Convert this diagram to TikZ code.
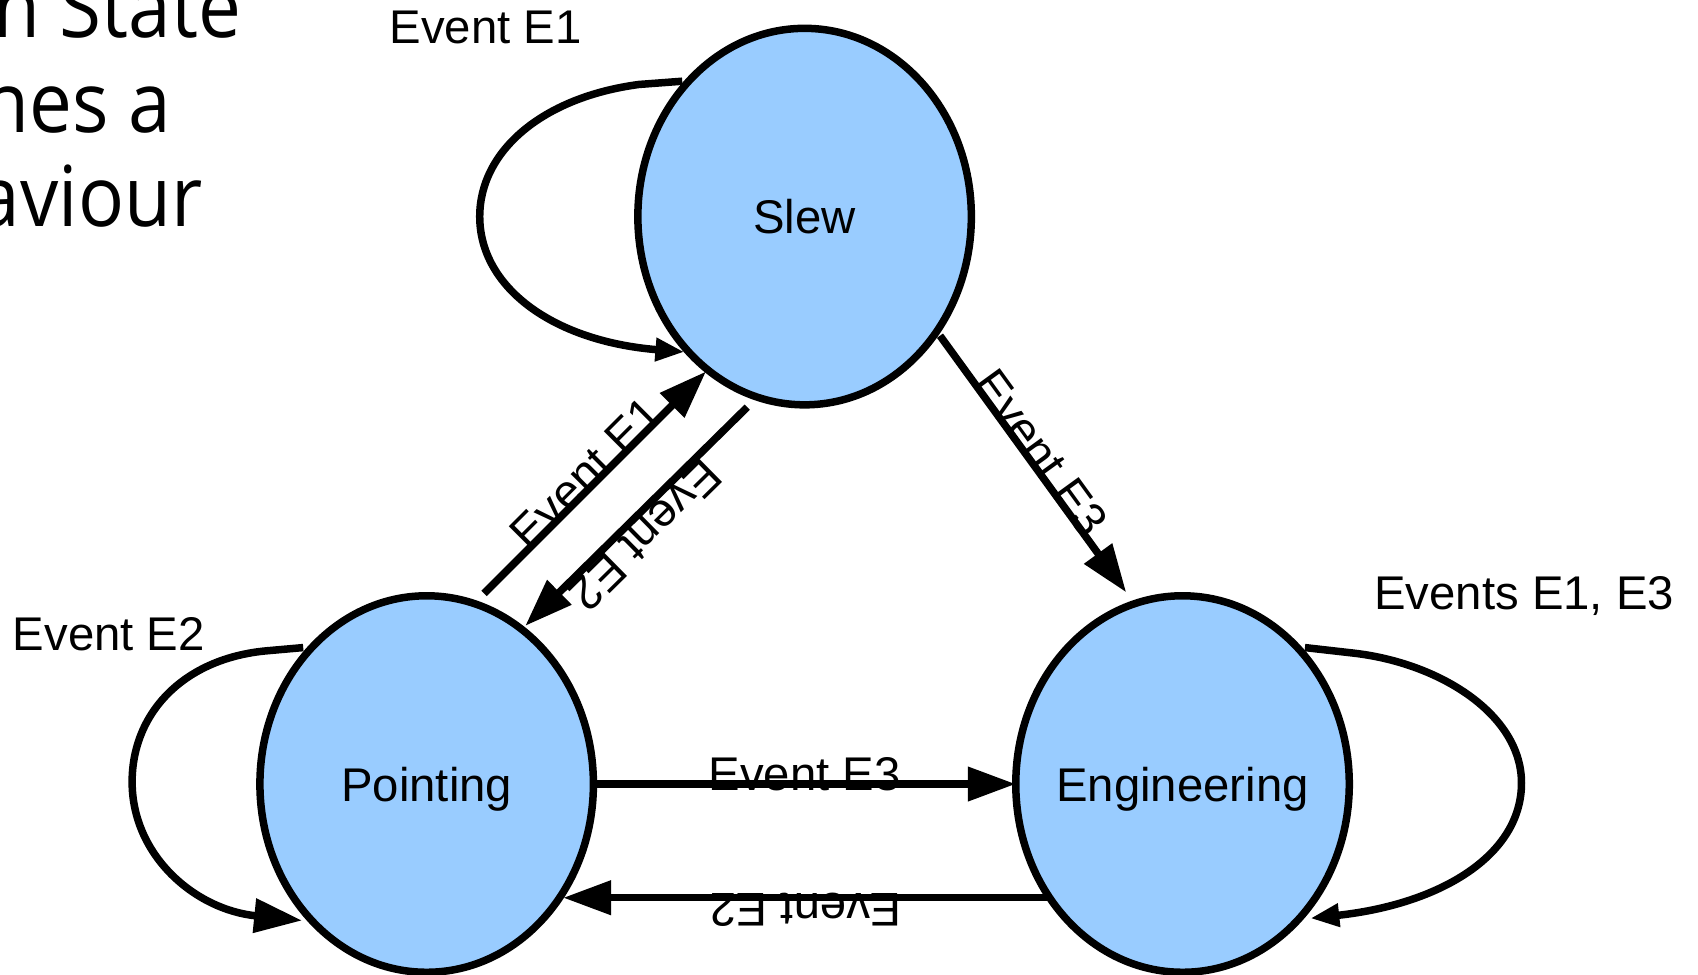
\documentclass[tikz,border=0pt]{standalone}
\usepackage{fontspec}
\setmainfont{Liberation Sans}
\newfontfamily\slidefont{Open Sans}
\usetikzlibrary{shapes.geometric,arrows.meta,calc}
\definecolor{statefill}{HTML}{99CCFF}
\newcommand\slideline[1]{\scalebox{0.91}[1]{#1}}
\tikzset{
  state/.style={ellipse, draw=black, line width=7.5pt, fill=statefill,
    minimum width=333.5pt, minimum height=376.5pt, inner sep=0pt, outer sep=0pt,
    text height=34pt, text depth=0pt, font=\fontsize{47.3}{56}\selectfont},
  edge/.style={draw=black, line width=7.5pt},
  bigtip/.style={-{Triangle[length=48pt,width=33pt]}},
  smalltip/.style={-{Triangle[length=29pt,width=22pt]}},
  lbl/.style={inner sep=0pt, font=\fontsize{47.3}{56}\selectfont},
  slide/.style={inner sep=0pt, font=\slidefont\fontsize{84}{94}\selectfont}
}
\begin{document}
\begin{tikzpicture}[x=1.0829pt, y=-1.0829pt]
\clip (0,0) rectangle (1568,900);

% slide text behind the diagram
\node[slide, anchor=base east] (t1) at (223,34.2) {\slideline{n State}};
\node[slide, anchor=base east] (t2) at (158,122.8) {\slideline{nes a}};
\node[slide, anchor=base east] (t3) at (187,209.6) {\slideline{aviour}};

% states (the text is kept out of the shape's size)
\node[state] (S) at (743,200) {\makebox[0pt]{Slew}};
\node[state] (P) at (394,724) {\makebox[0pt]{Pointing}};
\node[state] (E) at (1092,724) {\makebox[0pt]{Engineering}};

% end points of the transitions
\coordinate (SP-a) at ($(P)+(53,-176)$);
\coordinate (SP-b) at ($(S)+(-91,143)$);
\coordinate (PS-a) at ($(S)+(-53,176)$);
\coordinate (PS-b) at ($(P)+(91,-146)$);
\coordinate (SE-a) at ($(S)+(125,110)$);
\coordinate (SE-b) at ($(E)+(-52,-177)$);
\coordinate (EP-a) at ($(E)+(-124,105)$);
\coordinate (EP-b) at ($(P)+(126,105)$);
\coordinate (S-out) at ($(S)+(-113,-125)$);
\coordinate (S-in) at ($(S)+(-111,125)$);
\coordinate (P-out) at ($(P)+(-114,-126)$);
\coordinate (P-in) at ($(P)+(-115,126)$);
\coordinate (E-out) at ($(E)+(113,-126)$);
\coordinate (E-in) at ($(E)+(118,124)$);

% transitions between states
\draw[edge, bigtip] (SP-a) -- node[lbl, sloped, anchor=base, pos=0.5] {\raisebox{-3pt}{Event E1}} (SP-b);
\draw[edge, bigtip] (PS-a) -- node[lbl, sloped, allow upside down, anchor=base, pos=0.52] {\raisebox{4pt}{Event E2}} (PS-b);
\draw[edge, bigtip] (SE-a) -- node[lbl, sloped, anchor=base, pos=0.486] {\raisebox{-3pt}{Event E3}} (SE-b);
\draw[edge, bigtip] (P.east) -- node[lbl, anchor=base, pos=0.5] {\raisebox{-6.5pt}{Event E3}} (E.west);
\draw[edge, bigtip] (EP-a) -- node[lbl, sloped, allow upside down, anchor=base, pos=0.5] {\raisebox{-4pt}{Event E2}} (EP-b);

% self transitions
\begin{scope}[shift={(S)}]
\draw[edge, smalltip] (S-out) -- (-153,-122)
  .. controls (-243,-110) and (-300,-60) .. (-300,0)
  .. controls (-300,65) and (-233,115) .. (S-in);
\end{scope}
\begin{scope}[shift={(P)}]
\draw[edge, bigtip] (P-out) -- (-148,-123)
  .. controls (-224,-116) and (-272,-66) .. (-272,-2)
  .. controls (-272,66) and (-214,116) .. (P-in);
\end{scope}
\begin{scope}[shift={(E)}]
\draw[edge, smalltip] (E-out) -- (157,-121)
  .. controls (238,-112) and (313,-64) .. (313,-1)
  .. controls (313,66) and (238,111) .. (E-in);
\end{scope}

% loop labels
\node[lbl, anchor=base] (lS) at (448.5,40) {Event E1};
\node[lbl, anchor=base] (lP) at (100.5,601) {Event E2};
\node[lbl, anchor=base] (lE) at (1407.5,563) {Events E1, E3};
\end{tikzpicture}
\end{document}
